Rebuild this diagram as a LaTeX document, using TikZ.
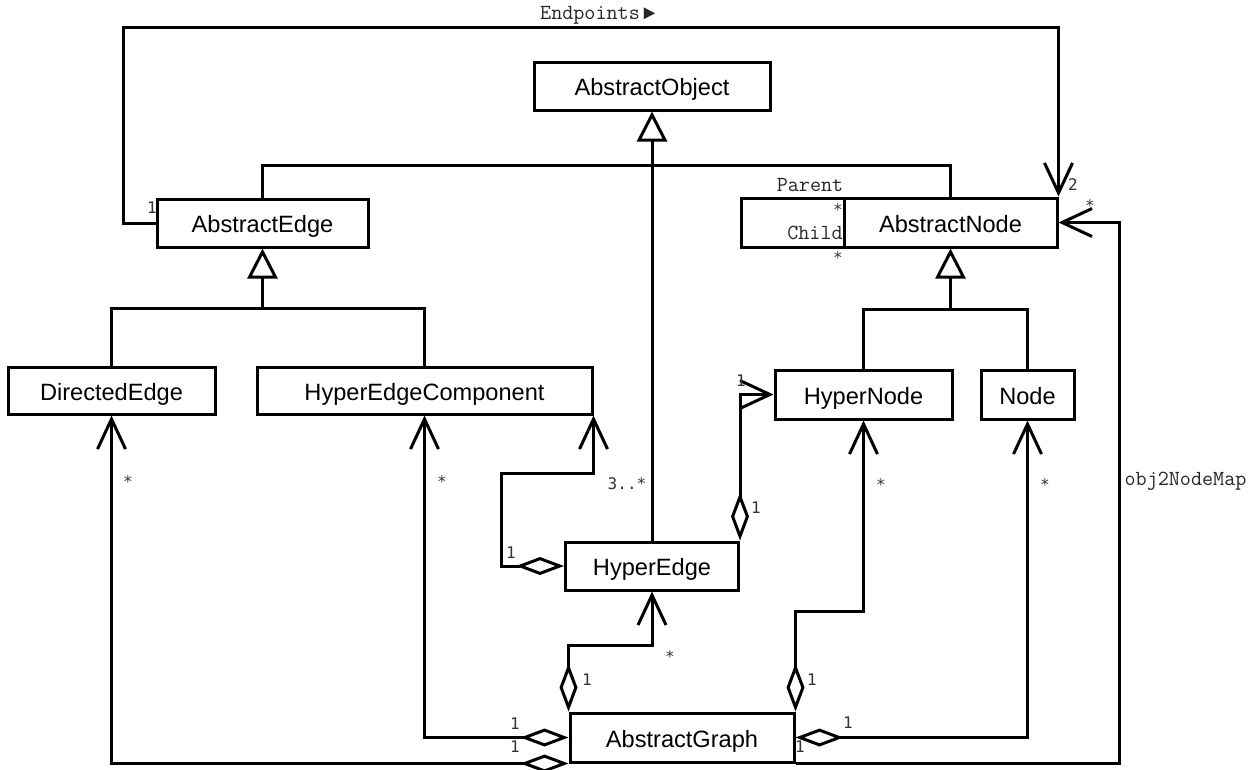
\documentclass[tikz,border=0pt]{standalone}
\usepackage{fontspec}
\setmainfont{Liberation Sans}
\setmonofont{Latin Modern Mono}
\newfontfamily\pointerfont{Liberation Mono}
\newfontfamily\multfont{DejaVu Sans Mono}
\usetikzlibrary{arrows.meta}

\begin{document}
\begin{tikzpicture}[x=1pt,y=-1pt,
  cls/.style={draw, line width=3pt, rectangle, inner sep=0pt, minimum height=48pt,
    font=\fontsize{23.6}{28}\selectfont, text height=19pt, text depth=0pt},
  conn/.style={line width=3pt, line join=miter},
  gen/.style={conn, -{Triangle[open, length=30pt, width=30pt]}},
  nav/.style={conn, -{Straight Barb[length=30pt, width=28pt]}},
  agg/.style={conn, {Diamond[open, length=48pt, width=18pt]}-{Straight Barb[length=30pt, width=28pt]}},
  mult/.style={font=\multfont\fontsize{16}{18}\selectfont, text=black!80, inner sep=0pt},
  role/.style={font=\ttfamily\fontsize{21.5}{24}\selectfont, text=black!85, inner sep=0pt, anchor=base},
]
\useasboundingbox (0,0) rectangle (1257,769);

% classes
\node[cls, minimum width=236pt] (AO) at (652,86) {AbstractObject};
\node[cls, minimum width=211pt] (AE) at (262.5,223) {AbstractEdge};
\node[cls, minimum width=103pt, minimum height=49pt] (ANself) at (792.5,222.5) {};
\node[cls, minimum width=213pt, minimum height=49pt] (AN) at (950.5,222.5) {AbstractNode};
\node[cls, minimum width=207pt, minimum height=47pt] (DE) at (111.5,390.5) {DirectedEdge};
\node[cls, minimum width=335pt, minimum height=47pt] (HEC) at (424.5,390.5) {HyperEdgeComponent};
\node[cls, minimum width=177pt, minimum height=49pt] (HN) at (863.5,394.5) {HyperNode};
\node[cls, minimum width=93pt, minimum height=49pt] (ND) at (1027.5,394.5) {Node};
\node[cls, minimum width=173pt] (HE) at (652,566) {HyperEdge};
\node[cls, minimum width=224pt, minimum height=49pt] (AG) at (682,737.5) {AbstractGraph};

% routing levels
\coordinate (yA) at (0,165);
\coordinate (yB) at (0,308);
\coordinate (yC) at (0,309);
\coordinate (yD) at (0,473);
\coordinate (yE) at (0,645);
\coordinate (yF) at (0,611);
\coordinate (cTop) at (123,27);
\coordinate (xH) at (501,0);
\coordinate (xR) at (1119,0);

% generalisation
\draw[conn] (AE.north) |- (AN.north |- yA) -- (AN.north);
\draw[gen] (HE.north) -- (AO.south);
\draw[gen] (AE.south |- yB) -- (AE.south);
\draw[conn] (DE.north) |- (HEC.north |- yB) -- (HEC.north);
\draw[gen] (AN.south |- yC) -- (AN.south);
\draw[conn] (HN.north) |- (ND.north |- yC) -- (ND.north);

% navigable associations
\draw[nav] (AE.west) -| (cTop) -| (AN.north east);
\draw[nav] (AG.south east) -| (AN.east -| xR) -- (AN.east);

% aggregations
\draw[agg] (HE.west) -| (xH |- yD) -| (HEC.south east);
\draw[agg] (HE.north east) |- (HN.west);
\draw[agg] (AG.north west) |- (HE.south |- yE) -- (HE.south);
\draw[agg] (AG.north east) |- (HN.south |- yF) -- (HN.south);
\draw[agg] (AG.west) -| (HEC.south);
\draw[agg] (AG.south west) -| (DE.south);
\draw[agg] (AG.east) -| (ND.south);

% role names
\node[role, anchor=base west] (rEnd) at (540,19) {Endpoints\,{\pointerfont\fontsize{20}{22}\selectfont ►}};
\node[role] (rPar) at (810,191) {Parent};
\node[role] (rChi) at (815,239) {Child};
\node[role] (rMap) at (1185.5,485) {obj2NodeMap};

% multiplicities
\node[mult] (m1) at (152,208) {1};
\node[mult] (m2) at (1073,185) {2};
\node[mult] (m3) at (1090,206) {*};
\node[mult] (m4) at (838,210) {*};
\node[mult] (m5) at (838,258) {*};
\node[mult] (m6) at (741,381) {1};
\node[mult] (m7) at (881,485) {*};
\node[mult] (m8) at (1045,485) {*};
\node[mult] (m9) at (442,482) {*};
\node[mult] (m10) at (128,482) {*};
\node[mult] (m11) at (627,484) {3..*};
\node[mult] (m12) at (511,553) {1};
\node[mult] (m13) at (756,508) {1};
\node[mult] (m14) at (670,657) {*};
\node[mult] (m15) at (587,680) {1};
\node[mult] (m16) at (812,680) {1};
\node[mult] (m17) at (515,724) {1};
\node[mult] (m18) at (515,747) {1};
\node[mult] (m19) at (848,723) {1};
\node[mult] (m20) at (800,747) {1};
\end{tikzpicture}
\end{document}
